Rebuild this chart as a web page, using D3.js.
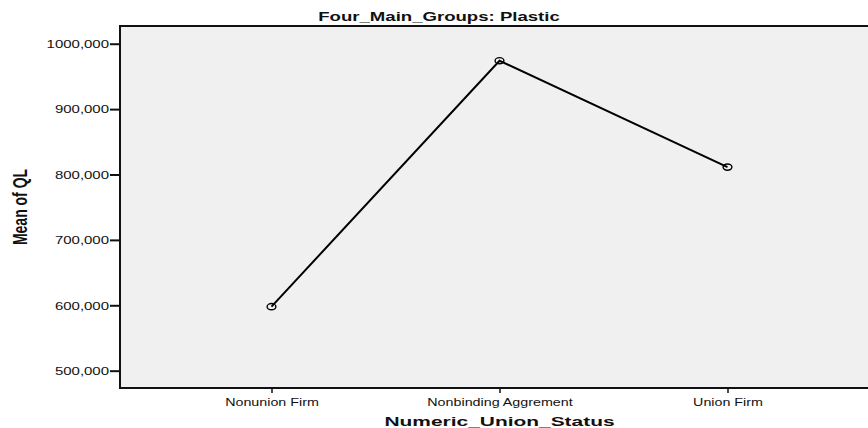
<!DOCTYPE html>
<html>
<head>
<meta charset="utf-8">
<script src="https://cdn.jsdelivr.net/npm/d3@7"></script>
<style>
  html, body { margin: 0; padding: 0; background: #fff; }
  svg { display: block; font-family: "Liberation Sans", Arial, sans-serif; }
</style>
</head>
<body>
<svg id="chart" width="868" height="428"></svg>
<script>
// Mean of QL by union status (Four_Main_Groups: Plastic)
const categories = ["Nonunion Firm", "Nonbinding Aggrement", "Union Firm"];
const meanQL = [597.9, 974.0, 811.3];
const yTickValues = [500, 600, 700, 800, 900, 1000];

const titleText = "Four_Main_Groups: Plastic";
const xTitle = "Numeric_Union_Status";
const yTitle = "Mean of QL";

// tick labels use a decimal comma with three decimals, e.g. "600,000"
const locale = d3.formatLocale({ decimal: ",", thousands: "", grouping: [3], currency: ["", ""] });
const fmt = locale.format(".3f");

const W = 868, H = 428;
const plot = { left: 120, top: 26, right: 880, bottom: 388 };
const SX = 1.36; // horizontal text stretch

const svg = d3.select("#chart");

const x = d3.scalePoint().domain(categories).range([271.5, 727.5]);
const y = d3.scaleLinear().domain([473.5, 1027.1]).range([plot.bottom, plot.top]);

// plot background
svg.append("rect")
  .attr("x", plot.left).attr("y", plot.top)
  .attr("width", plot.right - plot.left).attr("height", plot.bottom - plot.top)
  .attr("fill", "#f0f0f0");

// frame lines (top, left, bottom)
const frame = svg.append("g").attr("stroke", "#111").attr("stroke-width", 2);
frame.append("line").attr("x1", plot.left).attr("x2", W).attr("y1", plot.top).attr("y2", plot.top);
frame.append("line").attr("x1", plot.left).attr("x2", plot.left).attr("y1", plot.top - 1).attr("y2", plot.bottom + 1);
frame.append("line").attr("x1", plot.left).attr("x2", W).attr("y1", plot.bottom).attr("y2", plot.bottom);

// y axis
const yAxis = d3.axisLeft(y).tickValues(yTickValues).tickFormat(fmt).tickSize(10).tickPadding(0);
const gy = svg.append("g").attr("transform", `translate(${plot.left},0)`).call(yAxis);
gy.select(".domain").remove();
gy.selectAll(".tick line").attr("stroke", "#111").attr("stroke-width", 2);
gy.selectAll(".tick text")
  .attr("x", null).attr("dy", null)
  .attr("font-size", 11).attr("fill", "#111")
  .attr("text-anchor", "end")
  .attr("dominant-baseline", "central")
  .attr("transform", `translate(-11,0) scale(${SX},1)`);

// x axis
const xAxis = d3.axisBottom(x).tickSize(5).tickPadding(0);
const gx = svg.append("g").attr("transform", `translate(0,${plot.bottom})`).call(xAxis);
gx.select(".domain").remove();
gx.selectAll(".tick line").attr("stroke", "#111").attr("stroke-width", 1.5);
gx.selectAll(".tick text")
  .attr("y", null).attr("dy", null)
  .attr("font-size", 11).attr("fill", "#111")
  .attr("text-anchor", "middle")
  .attr("transform", `translate(0,18) scale(1.3,1)`);

// mean line
const line = d3.line().x((d, i) => x(categories[i])).y(d => y(d));
svg.append("path")
  .datum(meanQL)
  .attr("d", line)
  .attr("fill", "none")
  .attr("stroke", "#000")
  .attr("stroke-width", 2);

// point markers
svg.append("g").selectAll("ellipse")
  .data(meanQL)
  .join("ellipse")
  .attr("cx", (d, i) => x(categories[i]))
  .attr("cy", d => y(d))
  .attr("rx", 4.4).attr("ry", 3.1)
  .attr("fill", "none")
  .attr("stroke", "#000")
  .attr("stroke-width", 1.4);

// chart title
svg.append("text")
  .attr("transform", `translate(439,21) scale(1.43,1)`)
  .attr("text-anchor", "middle")
  .attr("font-weight", "bold")
  .attr("font-size", 13)
  .attr("fill", "#111")
  .text(titleText);

// x axis title
svg.append("text")
  .attr("transform", `translate(499.5,425.5) scale(1.55,1)`)
  .attr("text-anchor", "middle")
  .attr("font-weight", "bold")
  .attr("font-size", 13.5)
  .attr("fill", "#111")
  .text(xTitle);

// y axis title
svg.append("text")
  .attr("transform", `translate(27,207) scale(1.4,1) rotate(-90)`)
  .attr("text-anchor", "middle")
  .attr("font-weight", "bold")
  .attr("font-size", 14)
  .attr("fill", "#111")
  .text(yTitle);
</script>
</body>
</html>
